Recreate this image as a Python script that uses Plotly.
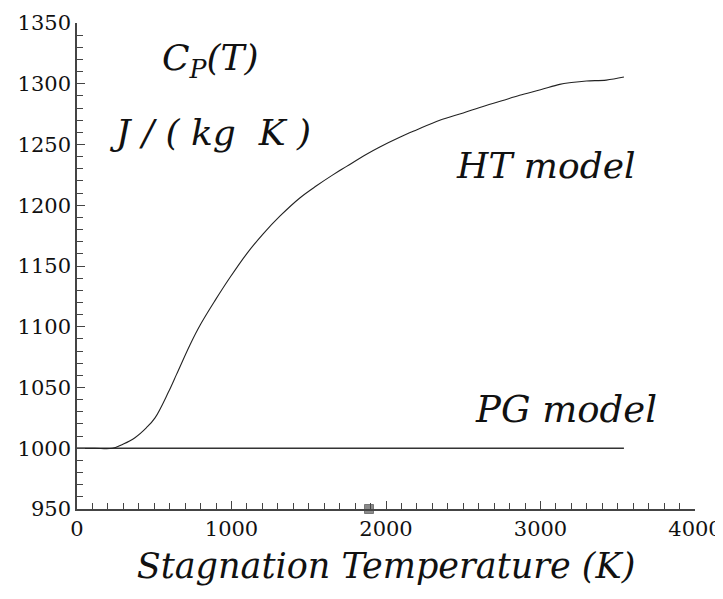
import plotly.graph_objects as go

# HT model curve
ht_T = [0, 115, 230, 300, 375, 450, 505, 591, 645, 731, 800, 893, 990, 1098, 1205,
        1313, 1442, 1550, 1656, 1745, 1874, 1960, 2089, 2197, 2348, 2500, 2607,
        2750, 2865, 3000, 3124, 3200, 3297, 3426, 3540]
ht_cp = [1000, 1000, 1000, 1003.5, 1008.7, 1017, 1025, 1046, 1061, 1085, 1102, 1121.5,
         1140.5, 1160, 1176.5, 1191, 1206, 1216, 1225, 1232, 1242, 1248, 1256, 1262,
         1270, 1276, 1280.5, 1286, 1290.5, 1295, 1299.5, 1301, 1302.3, 1303, 1305.5]

# PG model line
pg_T = [0, 3540]
pg_cp = [1000, 1000]

# marker on axis
mark_T = [1890]
mark_cp = [950]

x_ticks = [0, 1000, 2000, 3000, 4000]
y_ticks = [950, 1000, 1050, 1100, 1150, 1200, 1250, 1300, 1350]

serif = "DejaVu Serif"

fig = go.Figure()
fig.add_trace(go.Scatter(x=pg_T, y=pg_cp, mode="lines",
                         line=dict(color="#333333", width=1.6), showlegend=False))
fig.add_trace(go.Scatter(x=ht_T, y=ht_cp, mode="lines", line_shape="spline",
                         line=dict(color="#222222", width=1.1, smoothing=1.0), showlegend=False))
fig.add_trace(go.Scatter(x=mark_T, y=mark_cp, mode="markers", cliponaxis=False,
                         marker=dict(symbol="square", size=9, color="#8a8a8a",
                                     line=dict(color="#777777", width=1)),
                         showlegend=False))

axis_common = dict(
    showline=True, linecolor="#444444", linewidth=1.5, showgrid=False, zeroline=False,
    ticks="inside", ticklen=8, tickwidth=1.2, tickcolor="#444444", automargin=False,
    tickfont=dict(family=serif, size=21, color="#111111"),
)

fig.update_xaxes(range=[0, 4000], tickvals=x_ticks,
                 minor=dict(dtick=100, ticks="inside", ticklen=6, tickcolor="#444444", tickwidth=1.2),
                 title=dict(text="<i>Stagnation Temperature (K)</i>",
                            font=dict(family=serif, size=35, color="#111111"), standoff=14),
                 **axis_common)
fig.update_yaxes(range=[950, 1350], tickvals=y_ticks,
                 minor=dict(dtick=10, ticks="inside", ticklen=6, tickcolor="#444444", tickwidth=1.2),
                 **axis_common)

# page is offset by the 8px body margin
W, H = 715, 591
L, R, T, B = 69, 28, 15, 90
pw, ph = W - L - R, H - T - B
OFF = 8

annots = [
    ("<i>C<sub>P</sub>(T)</i>", 210, 60, 36),
    ("<i>J / ( kg&nbsp;&nbsp;K )</i>", 210, 132, 36),
    ("<i>HT model</i>", 546, 165, 36),
    ("<i>PG model</i>", 566, 409, 37),
]
for txt, px, py, fs in annots:
    fig.add_annotation(text=txt, x=(px - OFF - L) / pw, y=1 - (py - OFF - T) / ph,
                       xref="paper", yref="paper",
                       showarrow=False, font=dict(family=serif, size=fs, color="#111111"),
                       xanchor="center", yanchor="middle")

fig.update_layout(width=W, height=H, margin=dict(l=L, r=R, t=T, b=B),
                  plot_bgcolor="white", paper_bgcolor="white")

fig.write_html("out.html")
